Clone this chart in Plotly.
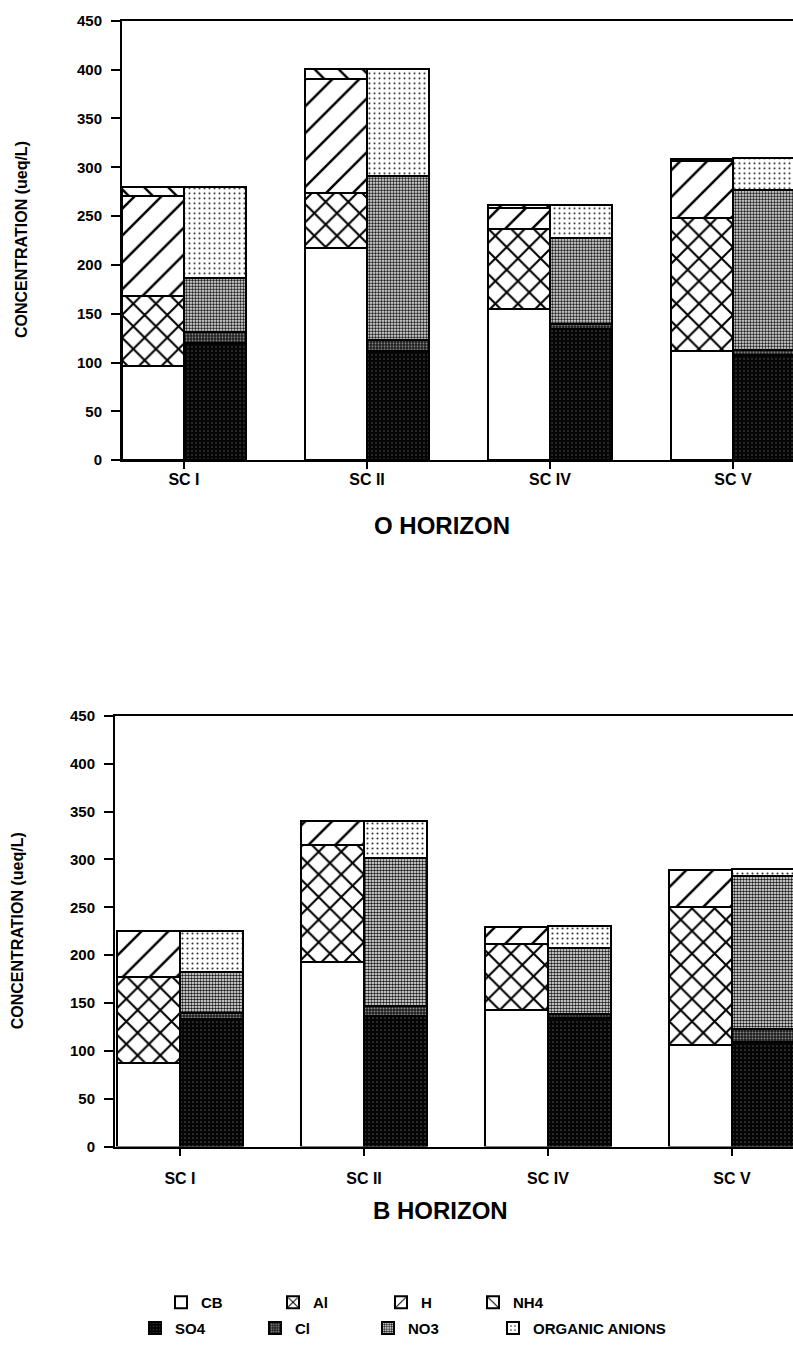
import plotly.graph_objects as go

# ---------------- data (ueq/L, segment heights) ----------------
categories = ["SC I", "SC II", "SC IV", "SC V"]
y_ticks = [0, 50, 100, 150, 200, 250, 300, 350, 400, 450]

# O horizon - cations (left bar)
o_cb = [97, 218, 155, 112]
o_al = [71, 56, 82, 136]
o_h = [103, 117, 21, 59]
o_nh4 = [9, 10, 4, 2]
# O horizon - anions (right bar)
o_so4 = [120, 112, 135, 108]
o_cl = [12, 11, 5, 5]
o_no3 = [55, 168, 88, 164]
o_oa = [93, 110, 34, 33]

# B horizon - cations
b_cb = [87, 193, 143, 106]
b_al = [90, 122, 69, 144]
b_h = [48, 25, 17, 39]
b_nh4 = [None, None, None, None]
# B horizon - anions
b_so4 = [133, 136, 134, 109]
b_cl = [7, 11, 4, 14]
b_no3 = [42, 155, 69, 160]
b_oa = [43, 38, 23, 7]

cation_names = ["CB", "Al", "H", "NH4"]
anion_names = ["SO4", "Cl", "NO3", "ORGANIC ANIONS"]
panel_titles = ["O HORIZON", "B HORIZON"]
y_title = "CONCENTRATION (ueq/L)"

# ---------------- styling ----------------
W, H = 793, 1351
FONT = "Liberation Sans, Arial, Helvetica, sans-serif"


def px(x):
    return x / W


def py(y):
    return 1 - y / H


styles = {
    "CB": dict(color="white"),
    "Al": dict(color="white", pattern=dict(shape="x", fgcolor="black", bgcolor="white",
                                            size=16, solidity=0.24, fillmode="replace")),
    "H": dict(color="white", pattern=dict(shape="/", fgcolor="black", bgcolor="white",
                                           size=19, solidity=0.13, fillmode="replace")),
    "NH4": dict(color="white", pattern=dict(shape="\\", fgcolor="black", bgcolor="white",
                                             size=17, solidity=0.14, fillmode="replace")),
    "SO4": dict(color="#080808", pattern=dict(shape=".", fgcolor="#4a4a4a", bgcolor="#050505",
                                              size=4, solidity=0.15, fillmode="replace")),
    "Cl": dict(color="#2a2a2a", pattern=dict(shape=".", fgcolor="#8a8a8a", bgcolor="#1a1a1a",
                                             size=3, solidity=0.35, fillmode="replace")),
    "NO3": dict(color="#888888", pattern=dict(shape=".", fgcolor="#1a1a1a", bgcolor="white",
                                              size=3, solidity=0.55, fillmode="replace")),
    "ORGANIC ANIONS": dict(color="white", pattern=dict(shape=".", fgcolor="#333333", bgcolor="white",
                                                        size=5, solidity=0.14, fillmode="replace")),
}

legend_keys = {name: ("legend" if i == 0 else f"legend{i + 1}")
               for i, name in enumerate(cation_names + anion_names)}

pos = list(range(len(categories)))
half = 0.17
left_x = [p - half for p in pos]
right_x = [p + half for p in pos]

panels = [
    dict(cat=[o_cb, o_al, o_h, o_nh4], an=[o_so4, o_cl, o_no3, o_oa], xa="x", ya="y", leg=True),
    dict(cat=[b_cb, b_al, b_h, b_nh4], an=[b_so4, b_cl, b_no3, b_oa], xa="x2", ya="y2", leg=False),
]

fig = go.Figure()
for pn in panels:
    for names, series, xs in ((cation_names, pn["cat"], left_x), (anion_names, pn["an"], right_x)):
        for name, vals in zip(names, series):
            st = styles[name]
            marker = dict(color=st["color"], line=dict(color="black", width=2))
            if "pattern" in st:
                marker["pattern"] = st["pattern"]
            fig.add_trace(go.Bar(
                x=xs, y=vals, name=name, width=2 * half, marker=marker,
                xaxis=pn["xa"], yaxis=pn["ya"],
                showlegend=pn["leg"], legend=legend_keys[name],
            ))

tick_font = dict(family=FONT, size=15, color="black", weight="bold")
xtick_font = dict(family=FONT, size=16, color="black", weight="bold")

common_x = dict(tickvals=pos, ticktext=categories, ticks="outside", ticklen=7, tickwidth=2,
                tickcolor="black", showline=True, linewidth=2, linecolor="black", mirror=True,
                showgrid=False, zeroline=False, tickfont=xtick_font)
common_y = dict(range=[0, 450], tickvals=y_ticks, ticks="outside", ticklen=9, tickwidth=2,
                tickcolor="black", showline=True, linewidth=2, linecolor="black", mirror=False,
                showgrid=False, zeroline=False, tickfont=tick_font, ticklabelstandoff=6)

fig.update_layout(
    xaxis=dict(domain=[px(122), 1], range=[(122 - 184) / 183, (793 - 184) / 183], anchor="y",
               ticklabelstandoff=-3, **common_x),
    yaxis=dict(domain=[py(457), py(12)], anchor="x", **common_y),
    xaxis2=dict(domain=[px(115), 1], range=[(115 - 180) / 184, (793 - 180) / 184], anchor="y2",
                ticklabelstandoff=9, **common_x),
    yaxis2=dict(domain=[py(1152), py(716)], anchor="x2", **common_y),
)

title_font = dict(family=FONT, size=24, color="black", weight="bold")
ytitle_font = dict(family=FONT, size=16, color="black", weight="bold")
annotations = [
    dict(text=panel_titles[0], x=px(442), y=py(523), xref="paper", yref="paper", showarrow=False,
         xanchor="center", yanchor="middle", font=title_font),
    dict(text=panel_titles[1], x=px(440), y=py(1217), xref="paper", yref="paper", showarrow=False,
         xanchor="center", yanchor="middle", font=title_font),
    dict(text=y_title, x=px(21), y=py(234), xref="paper", yref="paper", showarrow=False, textangle=-90,
         xanchor="center", yanchor="middle", font=ytitle_font),
    dict(text=y_title, x=px(17), y=py(934), xref="paper", yref="paper", showarrow=False, textangle=-90,
         xanchor="center", yanchor="middle", font=ytitle_font),
]

legend_pos = {
    "CB": (203, 1310), "Al": (315, 1310), "H": (423, 1310), "NH4": (515, 1310),
    "SO4": (177, 1336), "Cl": (297, 1336), "NO3": (410, 1336), "ORGANIC ANIONS": (535, 1336),
}
legend_layout = {}
for name, key in legend_keys.items():
    tx, ty = legend_pos[name]
    legend_layout[key] = dict(x=px(tx - 42), y=py(ty), xanchor="left", yanchor="middle",
                              orientation="h", bgcolor="rgba(0,0,0,0)", borderwidth=0,
                              font=dict(family=FONT, size=15, color="black", weight="bold"))

fig.update_layout(
    width=W, height=H, barmode="stack", bargap=0,
    margin=dict(l=0, r=0, t=0, b=0),
    paper_bgcolor="white", plot_bgcolor="white",
    annotations=annotations,
    **legend_layout,
)

fig.write_html("out.html")
